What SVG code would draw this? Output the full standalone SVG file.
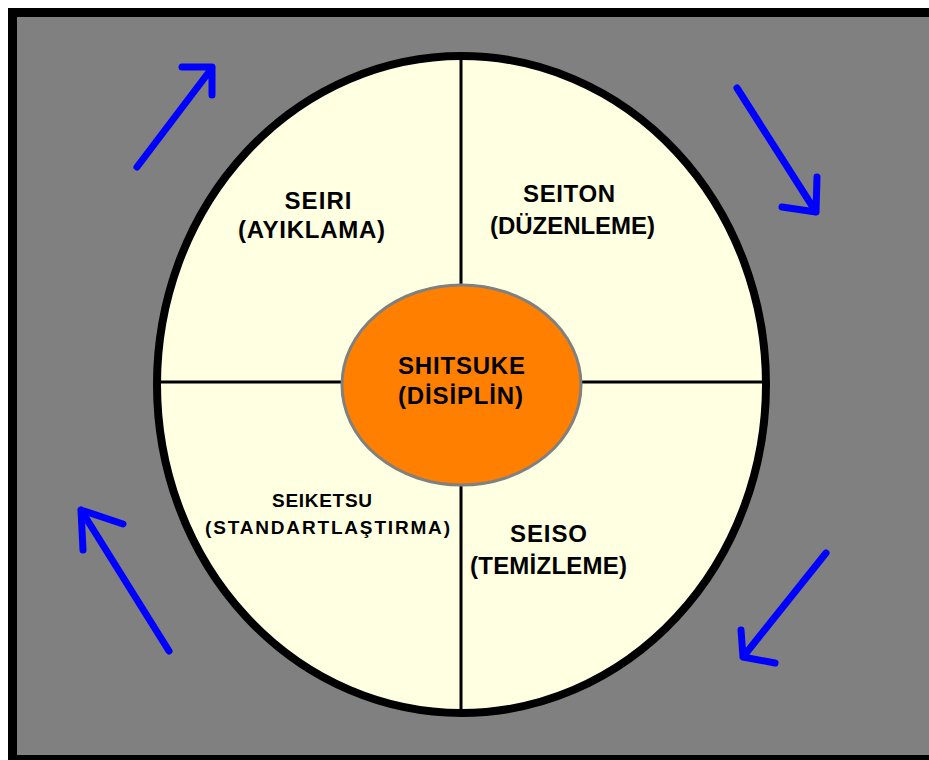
<svg xmlns="http://www.w3.org/2000/svg" width="929" height="760" viewBox="0 0 929 760">
<style>
.lbl{font-family:"Liberation Sans",Arial,sans-serif;font-weight:bold;fill:#000;text-anchor:middle;}
.big{font-size:24px;}
.small{font-size:19px;}
.arrow{fill:none;stroke:#0000FF;stroke-width:7;stroke-linecap:round;stroke-linejoin:round;}
</style>
<rect x="0" y="0" width="929" height="760" fill="#FFFFFF"/>
<rect x="12.5" y="12.5" width="930" height="747" fill="#808080" stroke="#000" stroke-width="9"/>
<g id="wheel">
<ellipse cx="461.5" cy="384.5" rx="304.5" ry="328.5" fill="#FFFFE1" stroke="#000" stroke-width="8"/>
<line x1="461" y1="56" x2="461" y2="713" stroke="#000" stroke-width="3"/>
<line x1="157" y1="382" x2="766" y2="382" stroke="#000" stroke-width="3"/>
</g>
<g id="seiri">
<text class="lbl big" x="318" y="209" textLength="67" lengthAdjust="spacing">SEIRI</text>
<text class="lbl big" x="311.5" y="238" textLength="147" lengthAdjust="spacing">(AYIKLAMA)</text>
</g>
<g id="seiton">
<text class="lbl big" x="569" y="202" textLength="92" lengthAdjust="spacing">SEITON</text>
<text class="lbl big" x="572.5" y="234" textLength="165" lengthAdjust="spacing">(DÜZENLEME)</text>
</g>
<g id="seiketsu">
<text class="lbl small" x="322" y="507" textLength="100" lengthAdjust="spacing">SEIKETSU</text>
<text class="lbl small" x="327.5" y="534" textLength="245" lengthAdjust="spacing">(STANDARTLAŞTIRMA)</text>
</g>
<g id="seiso">
<text class="lbl big" x="548.5" y="542" textLength="77" lengthAdjust="spacing">SEISO</text>
<text class="lbl big" x="548.5" y="574" textLength="157" lengthAdjust="spacing">(TEMİZLEME)</text>
</g>
<g id="shitsuke">
<ellipse cx="461.5" cy="385" rx="119.5" ry="100" fill="#FF8000" stroke="#808080" stroke-width="3"/>
<text class="lbl big" x="461.5" y="374" textLength="127" lengthAdjust="spacing">SHITSUKE</text>
<text class="lbl big" x="460.5" y="404" textLength="125" lengthAdjust="spacing">(DİSİPLİN)</text>
</g>
<g id="connectors">
<path class="arrow" d="M137,167 L212,68 M182,67 L212,67 L212,95"/>
<path class="arrow" d="M737,88 L816,212 M782,207 L816,212 L817,177"/>
<path class="arrow" d="M826,553 L743,657 M741,630 L743,657 L775,663"/>
<path class="arrow" d="M169,651 L81,510 M83,550 L81,510 L123,524"/>
</g>
</svg>
